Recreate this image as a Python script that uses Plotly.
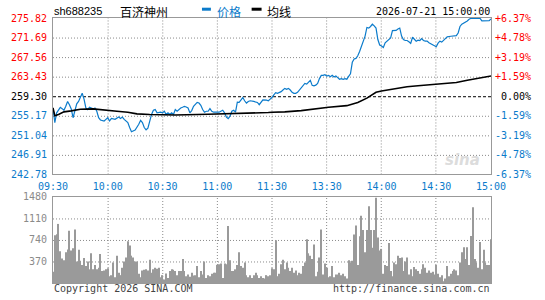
import math
import plotly.graph_objects as go

# ---------------- data ----------------
SYMBOL = "sh688235"
NAME = "百济神州"
STAMP = "2026-07-21 15:00:00"
LEGEND_NAMES = ["价格", "均线"]
PREV_CLOSE = 259.30
PRICE_TICKS = [275.82, 271.69, 267.56, 263.43, 259.30, 255.17, 251.04, 246.91, 242.78]
TIME_TICKS = ["09:30", "10:00", "10:30", "11:00", "11:30", "13:30", "14:00", "14:30", "15:00"]
VOL_TICKS = [370, 740, 1110, 1480]

PRICE_TIME = [
    "09:30", "09:31", "09:32", "09:33", "09:34", "09:35", "09:36", "09:37", "09:38", "09:39",
    "09:40", "09:41", "09:42", "09:43", "09:44", "09:45", "09:46", "09:47", "09:48", "09:49",
    "09:50", "09:52", "09:53", "09:54", "09:55", "09:56", "09:58", "09:59",
    "10:00", "10:01", "10:02", "10:04", "10:06", "10:07", "10:08", "10:09",
    "10:11", "10:12", "10:13", "10:15", "10:16", "10:17", "10:18", "10:19",
    "10:20", "10:21", "10:22", "10:23", "10:24", "10:25", "10:26", "10:27", "10:29",
    "10:30", "10:31", "10:32", "10:33", "10:34", "10:35", "10:36", "10:37", "10:38", "10:39",
    "10:40", "10:41", "10:42", "10:43", "10:44", "10:45", "10:46", "10:47", "10:48", "10:49",
    "10:50", "10:51", "10:52", "10:53", "10:54", "10:55", "10:56", "10:57", "10:58", "10:59",
    "11:00", "11:01", "11:02", "11:03", "11:04", "11:05", "11:06", "11:07", "11:08", "11:09",
    "11:10", "11:11", "11:12", "11:13", "11:14", "11:15", "11:16", "11:17", "11:18",
    "11:20", "11:22", "11:23", "11:24", "11:25", "11:27", "11:28", "11:29", "11:30",
    "13:01", "13:02", "13:03", "13:04", "13:05", "13:06", "13:07", "13:08", "13:09",
    "13:10", "13:11", "13:12", "13:13", "13:14", "13:15", "13:16", "13:17", "13:18", "13:19",
    "13:20", "13:21", "13:22", "13:23", "13:24", "13:25", "13:26", "13:27", "13:28", "13:29",
    "13:30", "13:31", "13:32", "13:33", "13:34", "13:35", "13:36", "13:37", "13:38", "13:39",
    "13:40", "13:41", "13:42", "13:43", "13:44", "13:45", "13:46", "13:47", "13:48", "13:49",
    "13:50", "13:51", "13:52", "13:53", "13:54", "13:55", "13:56", "13:57", "13:58", "13:59",
    "14:00", "14:01", "14:02", "14:03", "14:04", "14:05", "14:06", "14:07", "14:08", "14:09",
    "14:10", "14:11", "14:12", "14:13", "14:14", "14:15", "14:16", "14:17", "14:18", "14:19",
    "14:20", "14:21", "14:22", "14:23", "14:24", "14:25", "14:26", "14:27", "14:28", "14:29",
    "14:30", "14:31", "14:32", "14:33", "14:34", "14:35", "14:36",
    "14:38", "14:40", "14:41", "14:42", "14:43", "14:44", "14:45", "14:46", "14:47", "14:48", "14:49",
    "14:51", "14:52", "14:54", "14:55", "14:56", "14:58", "14:59", "15:00",
]
PRICE = [
    256.82, 253.73, 255.79, 256.30, 256.96, 256.68, 256.34, 257.17, 258.20, 257.51,
    256.60, 254.76, 256.13, 257.70, 258.20, 259.23, 259.92, 258.70, 256.82, 256.48,
    256.96, 256.62, 256.82, 256.13, 254.76, 254.28, 254.07, 254.41,
    254.76, 254.07, 254.62, 254.41, 254.90, 254.62, 254.90, 254.41,
    253.73, 252.69, 251.80, 252.14, 252.69, 253.38, 254.21, 253.73,
    252.69, 252.21, 252.55, 254.07, 255.45, 256.34, 256.48, 255.79, 255.93,
    255.79, 256.13, 255.45, 255.79, 255.45, 255.79, 255.45, 256.48, 256.13, 256.48,
    256.82, 256.96, 257.17, 257.03, 256.82, 255.79, 256.27, 257.17, 257.65, 257.99,
    257.86, 257.37, 256.48, 255.93, 256.13, 256.13, 256.68, 256.13, 255.93, 255.93,
    255.79, 255.93, 256.13, 256.34, 255.79, 254.90, 254.55, 255.10, 256.13, 256.34,
    255.93, 258.06, 257.99, 258.50, 259.02, 258.34, 257.86, 258.20, 258.34,
    258.20, 257.99, 257.51, 258.06, 258.54, 258.47, 258.34, 258.68, 259.02,
    259.58, 260.06, 259.92, 260.06, 260.27, 260.61, 260.95, 260.75, 260.95,
    260.61, 260.13, 259.92, 259.92, 260.13, 260.61, 261.16, 261.64, 261.99, 261.85,
    262.33, 262.67, 261.60, 261.50, 261.64, 261.99, 263.02, 263.71, 263.71, 263.84,
    263.57, 263.71, 263.40, 263.71, 263.36, 263.57, 263.22, 262.88, 263.02, 262.88,
    263.02, 262.90, 263.50, 264.05, 266.46, 267.15, 267.29, 267.84, 268.73, 269.90,
    270.90, 272.00, 273.82, 273.69, 274.03, 274.51, 274.17, 273.69, 271.28, 270.11,
    269.90, 269.60, 270.59, 270.93, 271.28, 271.62, 273.14, 273.14, 273.20, 273.48,
    273.69, 272.00, 271.28, 271.07, 271.07, 270.80, 270.45, 271.76, 271.28, 270.93,
    271.14, 271.07, 271.48, 271.07, 270.93, 270.93, 270.59, 270.38, 270.25, 269.90,
    269.76, 270.50, 270.93, 270.73, 271.07, 271.62, 271.83,
    271.97, 271.97, 272.10, 272.65, 274.03, 274.51, 274.72, 274.93, 275.20, 275.55, 275.75,
    275.75, 275.75, 275.75, 275.20, 275.20, 275.20, 275.27, 275.62,
]

AVG_TIME = [
    "09:30", "09:31", "09:33", "09:36", "09:40", "09:45", "09:52", "09:57", "10:05", "10:11",
    "10:16", "10:23", "10:31", "10:37", "10:55", "11:11", "11:28", "11:30", "13:07", "13:16",
    "13:23", "13:31", "13:41", "13:47", "13:52", "13:54", "13:57", "14:00", "14:03", "14:09",
    "14:14", "14:20", "14:27", "14:34", "14:41", "14:47", "14:52", "15:00",
]
AVG = [
    256.85, 255.20, 255.45, 256.00, 256.20, 256.55, 256.62, 256.48, 256.13, 255.93,
    255.58, 255.45, 255.31, 255.35, 255.50, 255.60, 255.85, 255.93, 256.00, 256.27,
    256.62, 256.96, 257.31, 257.99, 258.89, 259.37, 260.13, 260.40, 260.61, 260.95,
    261.30, 261.50, 261.78, 261.99, 262.19, 262.67, 263.02, 263.57,
]

# one value per trading minute (09:30-11:30, 13:01-15:00)
VOLUME = [
    194, 822, 840, 1016, 546, 423, 393, 528, 575, 898, 558, 599, 922, 370, 570, 382,
    311, 429, 294, 370, 235, 511, 235, 311, 235, 264, 499, 206, 217, 235, 253, 117,
    135, 352, 100, 470, 176, 135, 264, 370, 440, 716, 646, 470, 440, 370, 370, 159,
    100, 217, 229, 235, 217, 399, 176, 235, 264, 247, 264, 100,
    135, 59, 164, 88, 206, 235, 229, 206, 135, 206, 206, 411, 206, 117, 147,
    106, 176, 129, 135, 294, 100, 206, 147, 370, 88, 135, 117, 159, 176, 176, 311, 323, 335, 88,
    335, 323, 981, 393, 206, 206, 235, 311, 528, 294, 264, 352, 135, 100, 135, 88, 135, 176,
    135, 88, 117, 88, 76, 135, 117, 135, 253,
    235, 734, 117, 159, 323, 399, 235, 352, 264, 206, 264, 176, 217,
    135, 176, 159, 294, 352, 752, 511, 470, 411, 664, 117, 194, 440, 922, 147, 335, 264,
    100, 117, 294, 100, 147,
    147, 176, 135, 159, 117, 76, 393, 352, 382, 834, 987, 311, 805, 1157, 910, 528, 910,
    1321, 910, 605, 910, 1468, 781, 558, 587, 159, 311, 294, 687, 206, 117, 352, 323, 470,
    429, 440, 206, 370, 440, 147, 235, 117, 276, 235, 206, 159,
    235, 323, 264, 176, 217, 176,
    194, 147, 311, 159, 100, 135, 29, 76, 294, 117, 159,
    206, 235, 217, 135, 352, 528, 617, 411, 617, 311, 810, 1304, 411, 352, 264, 705, 235,
    570, 352, 311, 311, 752,
]

# ---------------- style / geometry ----------------
RED, BLUE, BLACK = "#ff0000", "#0b7bcb", "#000000"
GRID = "#8a8a8a"
FRAME = "#999999"
VOLCOL = "#9a9a9a"
MONO = "DejaVu Sans Mono"
CJK = "Noto Sans CJK SC"
GRID_DASH = "1px,2px"

W, H = 545, 300
ML, MR, MT, MB = 50, 54, 18, 11
PLOT_W = W - ML - MR          # 441
PLOT_H = H - MT - MB          # 271
MAIN_H = 160
VOL_H = 88
MAIN_DOM = [1 - MAIN_H / PLOT_H, 1]
VOL_DOM = [0, VOL_H / PLOT_H]
VOL_TOP = MT + PLOT_H - VOL_H


def slot(t):
    h, m = map(int, t.split(":"))
    v = h * 60 + m
    return v - 570 if v <= 690 else 120 + v - 780


def tone(v):
    if abs(v - PREV_CLOSE) < 1e-6:
        return BLACK
    return RED if v > PREV_CLOSE else BLUE


n_slots = slot("15:00")
tick_x = [slot(t) for t in TIME_TICKS]
p_lo, p_hi = PRICE_TICKS[-1], PRICE_TICKS[0]
v_lo, v_hi = 0, VOL_TICKS[-1]


def crisp_x(v):
    px = ML + v * PLOT_W / n_slots
    return (math.floor(px) + 0.5 - ML) * n_slots / PLOT_W


def crisp_y(v, lo, hi, top, h):
    px = top + (hi - v) / (hi - lo) * h
    return hi - (math.floor(px + 1e-6) + 0.5 - top) * (hi - lo) / h


left_text = [f'<span style="color:{tone(v)}">{v:.2f}</span>' for v in PRICE_TICKS]
right_text = []
for v in PRICE_TICKS:
    pct = (v - PREV_CLOSE) / PREV_CLOSE * 100
    s = f"{pct:+.2f}%" if abs(pct) > 1e-9 else "\u00a00.00%"
    right_text.append(f'<span style="color:{tone(v)}">{s}</span>')

fig = go.Figure()
fig.add_trace(go.Bar(x=list(range(len(VOLUME))), y=VOLUME, xaxis="x2", yaxis="y2",
                     marker=dict(color=VOLCOL, line=dict(width=0)), width=0.6,
                     hoverinfo="skip"))
fig.add_trace(go.Scatter(x=[slot(t) for t in PRICE_TIME], y=PRICE, mode="lines",
                         name=LEGEND_NAMES[0], line=dict(color=BLUE, width=1.2)))
fig.add_trace(go.Scatter(x=[slot(t) for t in AVG_TIME], y=AVG, mode="lines",
                         name=LEGEND_NAMES[1], line=dict(color=BLACK, width=1.6)))
fig.add_trace(go.Scatter(x=[0, n_slots], y=[p_lo, p_hi], yaxis="y3",
                         mode="markers", marker=dict(opacity=0), hoverinfo="skip"))

frame = dict(showgrid=False, showline=True, linecolor=FRAME, linewidth=1, mirror=True,
             zeroline=False, ticks="")

fig.update_layout(
    width=W, height=H,
    margin=dict(l=ML, r=MR, t=MT, b=MB),
    plot_bgcolor="white", paper_bgcolor="white",
    showlegend=False,
    xaxis=dict(domain=[0, 1], anchor="y", range=[0, n_slots], tickvals=tick_x,
               ticktext=TIME_TICKS, tickfont=dict(family=MONO, size=10, color=BLUE),
               ticklabelstandoff=3, **frame),
    yaxis=dict(domain=MAIN_DOM, anchor="x", range=[p_lo, p_hi],
               tickvals=PRICE_TICKS, ticktext=left_text,
               tickfont=dict(family=MONO, size=10), ticklabelstandoff=3, **frame),
    yaxis3=dict(overlaying="y", side="right", anchor="x",
                range=[p_lo, p_hi], tickvals=PRICE_TICKS,
                ticktext=right_text, tickfont=dict(family=MONO, size=10),
                showgrid=False, zeroline=False, ticks="", ticklabelstandoff=3),
    xaxis2=dict(domain=[0, 1], anchor="y2", range=[0, n_slots], tickvals=tick_x,
                showticklabels=False, **frame),
    yaxis2=dict(domain=VOL_DOM, anchor="x2", range=[v_lo, v_hi],
                tickvals=VOL_TICKS, ticktext=[str(v) for v in VOL_TICKS],
                tickfont=dict(family=MONO, size=10, color="#8a8a8a"),
                ticklabelstandoff=3, **frame),
)

# dotted grid drawn from the tick arrays, snapped to whole pixels
gline = dict(color=GRID, width=1, dash=GRID_DASH)
for xv in tick_x[1:-1]:
    cx = crisp_x(xv)
    fig.add_shape(type="line", xref="x", yref="y domain", x0=cx, x1=cx, y0=0, y1=1,
                  line=gline, layer="below")
    fig.add_shape(type="line", xref="x2", yref="y2 domain", x0=cx, x1=cx, y0=0, y1=1,
                  line=gline, layer="below")
for yv in PRICE_TICKS[1:-1]:
    if abs(yv - PREV_CLOSE) < 1e-6:
        continue
    cy = crisp_y(yv, p_lo, p_hi, MT, MAIN_H)
    fig.add_shape(type="line", xref="x domain", yref="y", x0=0, x1=1, y0=cy, y1=cy,
                  line=gline, layer="below")
for yv in VOL_TICKS[:-1]:
    cy = crisp_y(yv, v_lo, v_hi, VOL_TOP, VOL_H)
    fig.add_shape(type="line", xref="x2 domain", yref="y2", x0=0, x1=1, y0=cy, y1=cy,
                  line=gline, layer="below")

pc = crisp_y(PREV_CLOSE, p_lo, p_hi, MT, MAIN_H)
fig.add_shape(type="line", xref="x domain", x0=0, x1=1, yref="y", y0=pc, y1=pc,
              line=dict(color=BLACK, width=1, dash="3px,2px"), layer="below")

# legend swatches (header)
for x0, x1, col in [(0.3401, 0.3605, BLUE), (0.4535, 0.4762, BLACK)]:
    fig.add_shape(type="line", xref="paper", yref="paper", x0=x0, x1=x1, y0=1.0332, y1=1.0332,
                  line=dict(color=col, width=3), layer="above")

HEAD_Y = 1.0258
FOOT_Y = -0.0221
ann = [
    dict(text=SYMBOL, x=0, xanchor="left", y=HEAD_Y, font=dict(family="Liberation Sans", size=11, color=BLACK)),
    dict(text=NAME, x=0.1497, xanchor="left", y=HEAD_Y, font=dict(family=CJK, size=12, color=BLACK)),
    dict(text=LEGEND_NAMES[0], x=0.3719, xanchor="left", y=HEAD_Y, font=dict(family=CJK, size=12, color=BLUE)),
    dict(text=LEGEND_NAMES[1], x=0.4853, xanchor="left", y=HEAD_Y, font=dict(family=CJK, size=12, color=BLACK)),
    dict(text=STAMP, x=1, xanchor="right", y=HEAD_Y, font=dict(family=MONO, size=10, color=BLACK)),
    dict(text="Copyright 2026 SINA.COM", x=0, xanchor="left", y=FOOT_Y,
         font=dict(family=MONO, size=10, color="#444444")),
    dict(text="http://finance.sina.com.cn", x=1, xanchor="right", y=FOOT_Y,
         font=dict(family=MONO, size=10, color="#444444")),
    dict(text="<i><b>sina</b></i>", x=0.934, xanchor="center", y=0.465,
         font=dict(family="DejaVu Sans", size=15, color="#dcdcdc")),
]
for a in ann:
    fig.add_annotation(xref="paper", yref="paper", yanchor="middle", showarrow=False,
                       borderpad=0, **a)

fig.write_html("out.html")
